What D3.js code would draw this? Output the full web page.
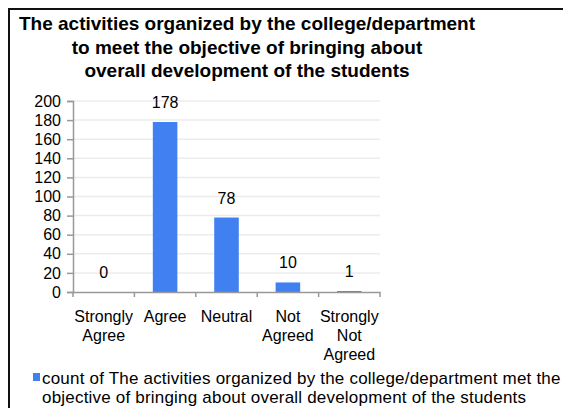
<!DOCTYPE html>
<html><head><meta charset="utf-8">
<script src="https://cdn.jsdelivr.net/npm/d3@7"></script>
<style>body{margin:0;background:#fff;overflow:hidden}svg{display:block}</style>
</head><body>
<script>
const titleLines = ["The activities organized by the college/department","to meet the objective of bringing about","overall development of the students"];
const categories = ["Strongly Agree","Agree","Neutral","Not Agreed","Strongly Not Agreed"];
const categoryLines = [["Strongly","Agree"],["Agree"],["Neutral"],["Not","Agreed"],["Strongly","Not","Agreed"]];
const values = [0,178,78,10,1];
const yTicks = [0,20,40,60,80,100,120,140,160,180,200];
const legendLines = ["count of The activities organized by the college/department met the","objective of bringing about overall development of the students"];

const W=563,H=408;
const svg=d3.select("body").append("svg").attr("width",W).attr("height",H);
svg.append("rect").attr("width",W).attr("height",H).attr("fill","#fff");
// frame
svg.append("path").attr("d",`M9,${H+5} L9,9 L${W+5},9`).attr("fill","none").attr("stroke","#111").attr("stroke-width",2);

const font="Liberation Sans, Arial, sans-serif";
const title=svg.append("text").attr("font-family",font).attr("font-weight","bold").attr("font-size",19).attr("fill","#000").attr("text-anchor","middle");
titleLines.forEach((t,i)=>title.append("tspan").attr("x",247).attr("y",30+i*23.5).text(t));

const x=d3.scaleBand().domain(categories).range([73,380]).paddingInner(0.6).paddingOuter(0.3);
const y=d3.scaleLinear().domain([0,200]).range([292,101]);

// gridlines
svg.append("g").selectAll("line").data(yTicks.filter(d=>d>0)).join("line")
  .attr("x1",73).attr("x2",380).attr("y1",d=>y(d)).attr("y2",d=>y(d)).attr("stroke","#ececec").attr("stroke-width",1.5);

// y axis
const ya=svg.append("g").attr("transform","translate(73,0)").call(d3.axisLeft(y).tickValues(yTicks).tickSize(6).tickPadding(6));
ya.selectAll("path,line").attr("stroke","#999").attr("stroke-width",1.5);
ya.selectAll("text").attr("font-family",font).attr("font-size",16).attr("fill","#000");

// bars
svg.append("g").selectAll("rect").data(values).join("rect")
  .attr("x",(d,i)=>x(categories[i])).attr("width",x.bandwidth())
  .attr("y",d=>y(d)).attr("height",d=>y(0)-y(d)).attr("fill","#4080f0");

// value labels
svg.append("g").selectAll("text").data(values).join("text")
  .attr("x",(d,i)=>x(categories[i])+x.bandwidth()/2).attr("y",d=>y(d)-14)
  .attr("text-anchor","middle").attr("font-family",font).attr("font-size",16).attr("fill","#000").text(d=>d);

// x axis
const xa=svg.append("g").attr("transform","translate(0,292)").call(d3.axisBottom(x).tickSize(0).tickFormat(""));
xa.select(".domain").attr("stroke","#999").attr("stroke-width",1.5);
const step=x.step();
const bounds=[x(categories[0])+x.bandwidth()/2-step/2].concat(categories.map(c=>x(c)+x.bandwidth()/2+step/2));
xa.selectAll(".bt").data(bounds).join("line").attr("class","bt").attr("x1",d=>d).attr("x2",d=>d).attr("y1",0).attr("y2",5).attr("stroke","#999").attr("stroke-width",1.5);
const xl=svg.append("g");
categories.forEach((c,i)=>{
  const t=xl.append("text").attr("text-anchor","middle").attr("font-family",font).attr("font-size",16).attr("fill","#000");
  categoryLines[i].forEach((l,j)=>t.append("tspan").attr("x",x(c)+x.bandwidth()/2).attr("y",322+j*19).text(l));
});

// legend
svg.append("rect").attr("x",33).attr("y",373).attr("width",7).attr("height",8).attr("fill","#4080f0");
const lg=svg.append("text").attr("font-family",font).attr("font-size",17).attr("fill","#000").attr("letter-spacing",0.2);
legendLines.forEach((l,i)=>lg.append("tspan").attr("x",42).attr("y",384+i*19).text(l));
</script>
</body></html>
